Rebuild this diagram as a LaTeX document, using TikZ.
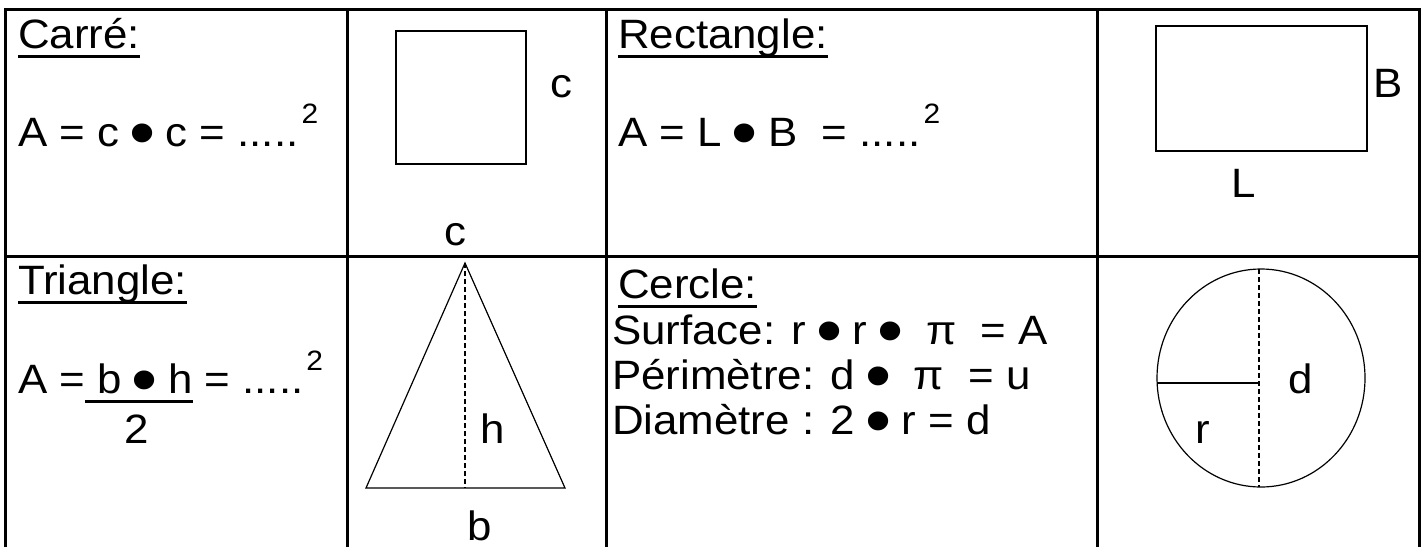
\documentclass[tikz,border=0pt]{standalone}
\usepackage{fontspec}
\setmainfont[FakeStretch=1.07]{Liberation Sans}
\newcommand\ulx[1]{\setbox0\hbox{#1}\rlap{\rule[-10pt]{\wd0}{3pt}}\box0}
\newcommand\bul{\kern-2pt\raisebox{-10pt}{\scalebox{1.7}{•}}\kern-2pt}
\newcommand\sqr{\hspace{3pt}\raisebox{23pt}{\fontsize{28}{28}\selectfont 2}}
\begin{document}
\begin{tikzpicture}[x=1pt,y=-1pt,
  every node/.style={inner sep=0pt,outer sep=0pt,font=\fontsize{41}{48}\selectfont},
  txt/.style={anchor=base west},
  lbl/.style={anchor=base},
  gridline/.style={line width=3pt},
  figline/.style={line width=1.2pt},
  hline/.style={line width=1.6pt,dash pattern=on 5pt off 3pt}]
\useasboundingbox (0,0) rectangle (1426,547);
% table grid
\draw[gridline] (5,547) -- (5,9) -- (1419,9) -- (1419,547);
\draw[gridline] (347,9) -- (347,547);
\draw[gridline] (606,9) -- (606,547);
\draw[gridline] (1097,9) -- (1097,547);
\draw[gridline] (5,256) -- (1419,256);
% Carre
\node[txt] (tcar) at (18,48) {\ulx{Carré:}};
\node[txt] (ecar) at (18,146) {A = c \bul{} c = .....\sqr};
\draw[figline] (396,31) rectangle (526,164);
\node[lbl] (cr) at (561,97) {c};
\node[lbl] (cb) at (455,245) {c};
% Rectangle
\node[txt] (trec) at (618,48) {\ulx{Rectangle:}};
\node[txt] (erec) at (618,146) {A = L \bul{} B \ = .....\sqr};
\draw[figline] (1156,26) rectangle (1367,151);
\node[lbl] (rB) at (1388,97) {B};
\node[lbl] (rL) at (1244,197) {L};
% Triangle
\node[txt] (ttri) at (18,294) {\ulx{Triangle:}};
\node[txt] (etri) at (18,393) {A =\ulx{ b \bul{} h}\ = .....\sqr};
\node[lbl] (etwo) at (137,443) {2};
\coordinate (apex) at (465,263);
\coordinate (bl) at (366,488);
\coordinate (br) at (565,488);
\coordinate (foot) at (465,488);
\draw[figline] (apex) -- (bl) -- (br) -- cycle;
\draw[hline] (apex) -- (foot);
\node[lbl] (th) at (493,443) {h};
\node[lbl] (tb) at (480,540) {b};
% Cercle
\node[txt] (tcer) at (618,298) {\ulx{Cercle:}};
\node[txt] (l1) at (612,344) {Surface: r \bul{} r \bul{} \ π \ = A};
\node[txt] (l2) at (612,389) {Périmètre: d \bul{} \ π \ = u};
\node[txt] (l3) at (612,434) {Diamètre : 2 \bul{} r = d};
\coordinate (cc) at (1261,378);
\coordinate (ctop) at (1259,269);
\coordinate (cbot) at (1259,487);
\coordinate (cmid) at (1259,383);
\coordinate (cleft) at (1157,383);
\draw[figline] (cc) ellipse [x radius=104, y radius=109];
\draw[hline] (ctop) -- (cbot);
\draw[figline,line width=1.6pt] (cleft) -- (cmid);
\node[lbl] (cd) at (1301,393) {d};
\node[lbl] (crr) at (1203,443) {r};
\end{tikzpicture}
\end{document}
